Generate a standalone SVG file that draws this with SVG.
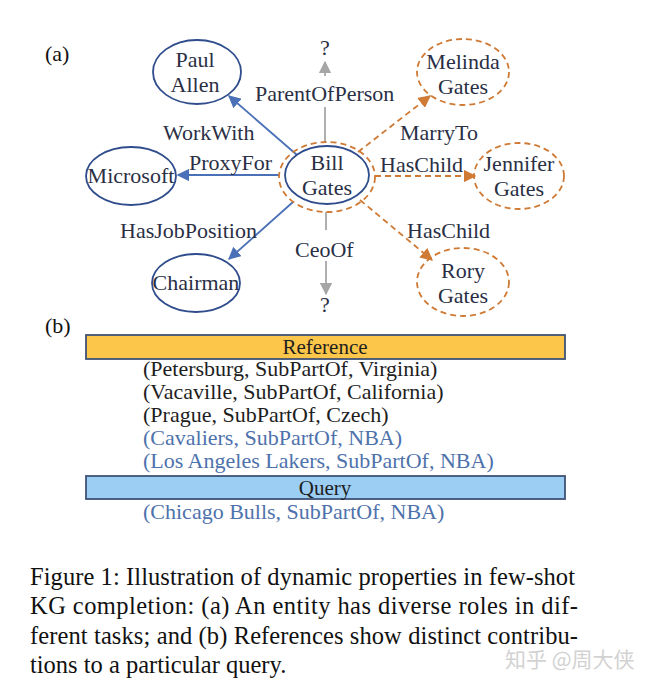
<svg xmlns="http://www.w3.org/2000/svg" width="646" height="688" viewBox="0 0 646 688">
<defs>
<style>
text{font-family:"Liberation Serif","Times New Roman",serif;}
.nt{font-size:22px;fill:#2a2f45;text-anchor:middle;}
.el{font-size:22px;fill:#2a2f45;}
.bn{fill:none;stroke:#2f4c8c;stroke-width:1.8;}
.on{fill:none;stroke:#cf7a35;stroke-width:1.8;stroke-dasharray:6,4;}
.be{stroke:#4a70b8;stroke-width:1.8;fill:none;}
.oe{stroke:#cf7a35;stroke-width:1.8;fill:none;stroke-dasharray:6,4;}
.ge{stroke:#a6a6a6;stroke-width:1.8;fill:none;}
.bk{font-size:22px;fill:#1e1e1e;}
.bl{font-size:22px;fill:#4e72ac;}
.cap{font-size:24.5px;fill:#111;}
</style>
<marker id="ab" viewBox="0 0 10 10" refX="9" refY="5" markerWidth="7" markerHeight="7" orient="auto"><path d="M0,0 L10,5 L0,10 z" fill="#4a70b8"/></marker>
<marker id="ao" viewBox="0 0 10 10" refX="9" refY="5" markerWidth="7" markerHeight="7" orient="auto"><path d="M0,0 L10,5 L0,10 z" fill="#cf7a35"/></marker>
<marker id="ag" viewBox="0 0 10 10" refX="9" refY="5" markerWidth="7" markerHeight="7" orient="auto"><path d="M0,0 L10,5 L0,10 z" fill="#a6a6a6"/></marker>
</defs>
<rect width="646" height="688" fill="#ffffff"/>
<text x="45" y="61" style="font-size:22px;fill:#111;">(a)</text>
<text x="45" y="333" style="font-size:22px;fill:#111;">(b)</text>

<g id="connectors">
<line class="be" x1="297" y1="155" x2="229" y2="96" marker-end="url(#ab)"/>
<line class="be" x1="279" y1="175" x2="178" y2="175" marker-end="url(#ab)"/>
<line class="be" x1="293" y1="202" x2="229" y2="259" marker-end="url(#ab)"/>
<line class="ge" x1="325" y1="143" x2="325" y2="107"/>
<line class="ge" x1="325" y1="76" x2="325" y2="62" marker-end="url(#ag)"/>
<line class="ge" x1="326" y1="212" x2="326" y2="230"/>
<line class="ge" x1="326" y1="261" x2="326" y2="294" marker-end="url(#ag)"/>
<line class="oe" x1="358" y1="152" x2="430" y2="96" marker-end="url(#ao)"/>
<line class="oe" x1="375" y1="176" x2="475" y2="176" marker-end="url(#ao)"/>
<line class="oe" x1="360" y1="200" x2="432" y2="260" marker-end="url(#ao)"/>
<text class="el" x="163" y="140">WorkWith</text>
<text class="el" x="189" y="170">ProxyFor</text>
<text class="el" x="120" y="238">HasJobPosition</text>
<text class="el" x="255" y="101">ParentOfPerson</text>
<text class="el" x="320" y="55">?</text>
<text class="el" x="295" y="257">CeoOf</text>
<text class="el" x="320" y="312">?</text>
<text class="el" x="400" y="140">MarryTo</text>
<text class="el" x="380" y="172">HasChild</text>
<text class="el" x="407" y="238">HasChild</text>
</g>

<g id="paul-allen"><ellipse class="bn" cx="197" cy="72" rx="44" ry="32"/><text class="nt" x="195" y="67">Paul</text><text class="nt" x="195" y="92">Allen</text></g>
<g id="microsoft"><ellipse class="bn" cx="131" cy="176" rx="45" ry="29"/><text class="nt" x="131" y="183">Microsoft</text></g>
<g id="chairman"><ellipse class="bn" cx="196" cy="283" rx="44" ry="29"/><text class="nt" x="196" y="290">Chairman</text></g>
<g id="bill-gates"><ellipse class="on" cx="327" cy="177" rx="48" ry="35"/><ellipse class="bn" cx="327" cy="175" rx="42" ry="29"/><text class="nt" x="327" y="170">Bill</text><text class="nt" x="327" y="195">Gates</text></g>
<g id="melinda-gates"><ellipse class="on" cx="463" cy="72" rx="46" ry="33"/><text class="nt" x="463" y="69">Melinda</text><text class="nt" x="463" y="94">Gates</text></g>
<g id="jennifer-gates"><ellipse class="on" cx="519" cy="176" rx="45" ry="33"/><text class="nt" x="519" y="171">Jennifer</text><text class="nt" x="519" y="196">Gates</text></g>
<g id="rory-gates"><ellipse class="on" cx="463" cy="282" rx="46" ry="34"/><text class="nt" x="463" y="278">Rory</text><text class="nt" x="463" y="303">Gates</text></g>

<g id="reference">
<rect x="86" y="335" width="479" height="24" fill="#fcc64a" stroke="#3f5276" stroke-width="1.8"/>
<text class="bk" x="325" y="354" text-anchor="middle" style="font-size:21px;">Reference</text>
</g>
<text class="bk" x="143" y="376">(Petersburg, SubPartOf, Virginia)</text>
<text class="bk" x="143" y="399">(Vacaville, SubPartOf, California)</text>
<text class="bk" x="143" y="422">(Prague, SubPartOf, Czech)</text>
<text class="bl" x="143" y="445">(Cavaliers, SubPartOf, NBA)</text>
<text class="bl" x="143" y="468">(Los Angeles Lakers, SubPartOf, NBA)</text>
<g id="query">
<rect x="86" y="476" width="479" height="23" fill="#9ccdf2" stroke="#3f5276" stroke-width="1.8"/>
<text class="bk" x="325" y="495" text-anchor="middle" style="font-size:21px;">Query</text>
</g>
<text class="bl" x="143" y="519">(Chicago Bulls, SubPartOf, NBA)</text>

<text class="cap" x="30" y="585" textLength="545" lengthAdjust="spacing">Figure 1: Illustration of dynamic properties in few-shot</text>
<text class="cap" x="30" y="614" textLength="548" lengthAdjust="spacing">KG completion: (a) An entity has diverse roles in dif-</text>
<text class="cap" x="30" y="644" textLength="548" lengthAdjust="spacing">ferent tasks; and (b) References show distinct contribu-</text>
<text class="cap" x="30" y="673">tions to a particular query.</text>
<text x="505" y="667" style="font-family:'Noto Sans CJK SC','Noto Sans',sans-serif;font-size:21px;fill:#d2d2d2;">知乎 @周大侠</text>
</svg>
